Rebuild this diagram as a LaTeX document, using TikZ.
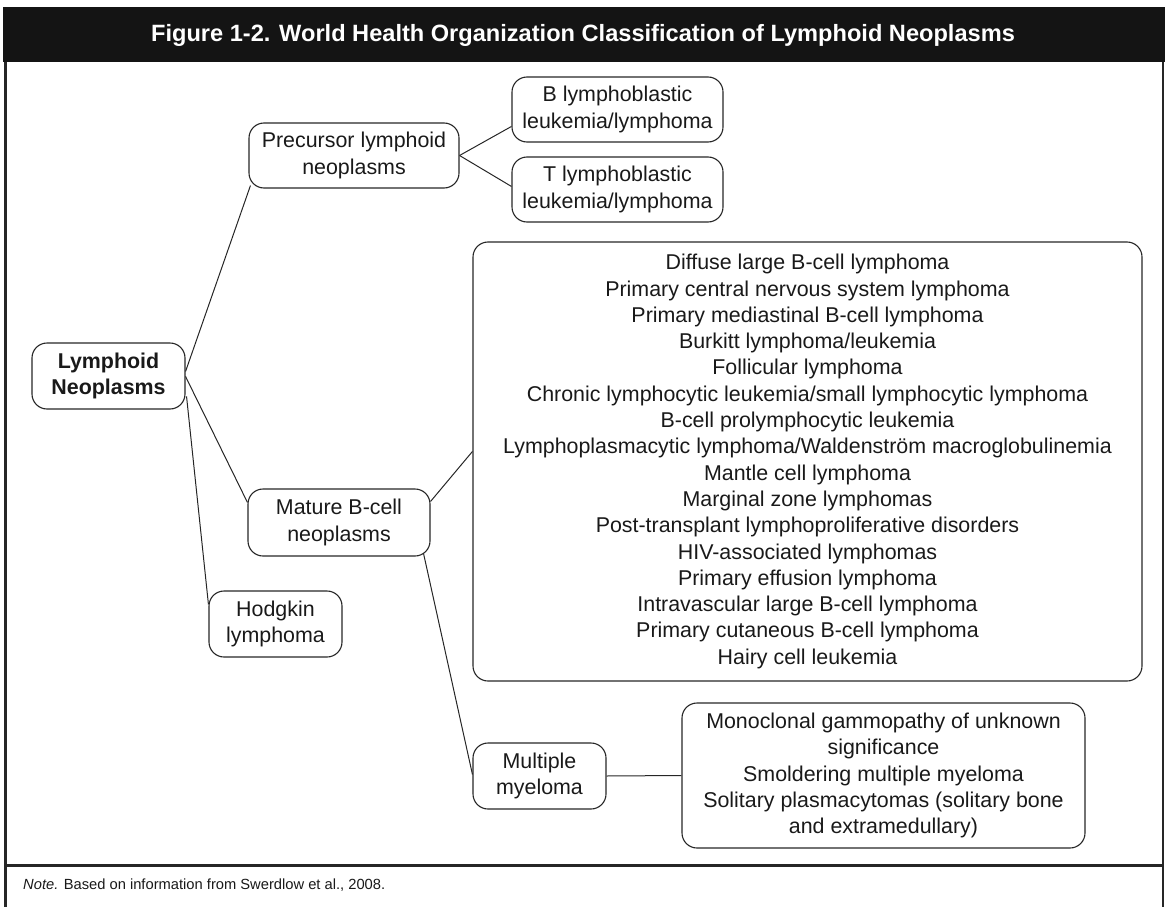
\documentclass[tikz,border=0pt]{standalone}
\usepackage{fontspec}
\setmainfont{Liberation Sans}
\usetikzlibrary{calc}
\begin{document}
\begin{tikzpicture}[x=1pt,y=-1pt,
  box/.style={draw=black!85, line width=1.1pt, rounded corners=15pt, align=center, inner sep=0pt, font=\fontsize{21.4}{26.3}\selectfont, text=black!90},
  conn/.style={draw=black!85, line width=1pt},
  frame/.style={draw=black!85}]
\useasboundingbox (0,0) rectangle (1165,907);
% title bar
\fill[black!92] (3,7) rectangle (1165,62);
\node[text=white, font=\bfseries\fontsize{23.6}{27}\selectfont] (title) at (583,35) {Figure 1-2. World Health Organization Classification of Lymphoid Neoplasms};
% frame
\draw[frame, line width=3pt] (5,62) -- (5,907);
\draw[frame, line width=1.5pt] (1163,62) -- (1163,907);
\draw[frame, line width=3pt] (5,865) -- (1163,865);
\node[anchor=west, inner sep=0pt, text=black!90] (note) at (23,885) {\resizebox{362pt}{!}{\fontsize{15}{18}\selectfont\textit{Note.} Based on information from Swerdlow et al., 2008.}};
% nodes
\node[box, minimum width=153pt, minimum height=66pt, font=\bfseries\fontsize{21.4}{26.3}\selectfont] (lymph) at (108.5,376) {Lymphoid\\Neoplasms};
\node[box, minimum width=210pt, minimum height=65pt] (prec) at (354,155.5) {Precursor lymphoid\\neoplasms};
\node[box, minimum width=211pt, minimum height=65pt] (blym) at (617.5,109.5) {B lymphoblastic\\leukemia/lymphoma};
\node[box, minimum width=211pt, minimum height=65pt] (tlym) at (617.5,189.5) {T lymphoblastic\\leukemia/lymphoma};
\node[box, minimum width=182pt, minimum height=67pt] (mature) at (339,522.5) {Mature B-cell\\neoplasms};
\node[box, minimum width=133pt, minimum height=66pt] (hodg) at (275.5,624) {Hodgkin\\lymphoma};
\node[box, minimum width=669pt, minimum height=439pt] (big) at (807.5,461.5) {Diffuse large B-cell lymphoma\\
Primary central nervous system lymphoma\\
Primary mediastinal B-cell lymphoma\\
Burkitt lymphoma/leukemia\\
Follicular lymphoma\\
Chronic lymphocytic leukemia/small lymphocytic lymphoma\\
B-cell prolymphocytic leukemia\\
Lymphoplasmacytic lymphoma/Waldenström macroglobulinemia\\
Mantle cell lymphoma\\
Marginal zone lymphomas\\
Post-transplant lymphoproliferative disorders\\
HIV-associated lymphomas\\
Primary effusion lymphoma\\
Intravascular large B-cell lymphoma\\
Primary cutaneous B-cell lymphoma\\
Hairy cell leukemia};
\node[box, minimum width=133pt, minimum height=66pt] (mm) at (539.5,776) {Multiple\\myeloma};
\node[box, minimum width=403pt, minimum height=145pt] (mgus) at (883.5,775.5) {Monoclonal gammopathy of unknown\\significance\\Smoldering multiple myeloma\\Solitary plasmacytomas (solitary bone\\and extramedullary)};
% connectors
\draw[conn] ($(lymph.north east)+(0,29)$) -- ($(prec.south west)+(2,-3)$);
\draw[conn] ($(lymph.north east)+(0,34)$) -- ($(mature.north west)+(0,14)$);
\draw[conn] ($(lymph.north east)+(1,54)$) -- ($(hodg.north west)+(0,14)$);
\draw[conn] (prec.east) -- ($(blym.north west)+(0,50)$);
\draw[conn] (prec.east) -- ($(tlym.north west)+(0,30)$);
\draw[conn] ($(mature.north east)+(0,13)$) -- ($(big.north west)+(0,210)$);
\draw[conn] ($(mature.south east)+(-7,-3)$) -- ($(mm.north west)+(0,32)$);
\draw[conn] (mm.east) -- (mgus.west);
\end{tikzpicture}
\end{document}
